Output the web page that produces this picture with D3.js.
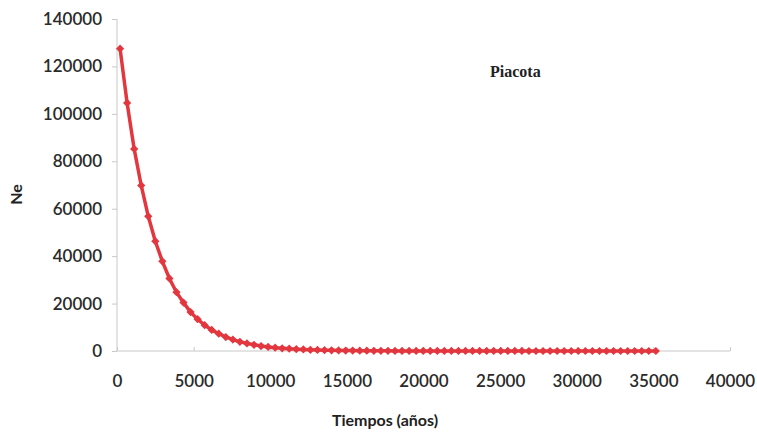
<!DOCTYPE html>
<html lang="es">
<head>
<meta charset="utf-8">
<title>Piacota</title>
<script src="https://cdn.jsdelivr.net/npm/d3@7"></script>
<style>
  body { margin: 0; background: #fff; }
  .tick text { font-family: Lato, "Open Sans", sans-serif; font-size: 17px; font-weight: 600; fill: #2a2a2a; }
  .axis path, .axis line { stroke: #c8c8c8; }
  .line { fill: none; stroke: #e3373f; stroke-width: 3.5px; }
  .dot { fill: #e3373f; }
</style>
</head>
<body>
<div id="chart"></div>
<script>
// años (x) y Ne (y)
var years = [200, 660, 1120, 1580, 2040, 2500, 2960, 3420, 3880, 4340, 4800, 5260, 5720, 6180,
  6640, 7100, 7560, 8020, 8480, 8940, 9400, 9860, 10320, 10780, 11240, 11700, 12160, 12620,
  13080, 13540, 14000, 14460, 14920, 15380, 15840, 16300, 16760, 17220, 17680, 18140, 18600,
  19060, 19520, 19980, 20440, 20900, 21360, 21820, 22280, 22740, 23200, 23660, 24120, 24580,
  25040, 25500, 25960, 26420, 26880, 27340, 27800, 28260, 28720, 29180, 29640, 30100, 30560,
  31020, 31480, 31940, 32400, 32860, 33320, 33780, 34240, 34700, 35160];
var ne = [127500, 104600, 85200, 69800, 56800, 46300, 37800, 30600, 24800, 20400, 16400, 13400,
  10900, 8900, 7300, 5900, 4800, 3900, 3200, 2600, 2100, 1700, 1400, 1150, 950, 780, 640, 520,
  430, 350, 290, 240, 200, 160, 130, 110, 90, 75, 60, 50, 40, 35, 30, 25, 20, 16, 13, 11, 9, 7,
  6, 5, 4, 3, 3, 2, 2, 2, 1, 1, 1, 1, 1, 1, 1, 1, 1, 1, 1, 1, 1, 1, 1, 1, 1, 1, 1];
var xTicks = [0, 5000, 10000, 15000, 20000, 25000, 30000, 35000, 40000];
var yTicks = [0, 20000, 40000, 60000, 80000, 100000, 120000, 140000];

var width = 757, height = 434;
var margin = {top: 19, right: 27, bottom: 83, left: 117};

var svg = d3.select("#chart").append("svg")
    .attr("width", width)
    .attr("height", height);

var x = d3.scaleLinear().domain([0, 40000]).range([margin.left, width - margin.right]);
var y = d3.scaleLinear().domain([0, 140000]).range([height - margin.bottom, margin.top]);

var data = years.map(function(d, i) { return {t: d, v: ne[i]}; });

var xAxis = svg.append("g")
    .attr("class", "axis")
    .attr("transform", "translate(0," + y(0) + ")")
    .call(d3.axisBottom(x).tickValues(xTicks).tickFormat(d3.format("d")).tickSize(-4).tickPadding(34));
xAxis.selectAll(".tick text").attr("dy", "0.1em");
xAxis.select(".domain").remove();
xAxis.append("line")
    .attr("x1", x(0)).attr("x2", x(40000))
    .attr("stroke", "#c8c8c8");

var yAxis = svg.append("g")
    .attr("class", "axis")
    .attr("transform", "translate(" + x(0) + ",0)")
    .call(d3.axisLeft(y).tickValues(yTicks).tickFormat(d3.format("d")).tickSize(5).tickPadding(10));
yAxis.select(".domain").attr("d", "M0," + y(0) + "V" + y(140000));

var line = d3.line()
    .x(function(d) { return x(d.t); })
    .y(function(d) { return y(d.v); });

svg.append("path")
    .datum(data)
    .attr("class", "line")
    .attr("d", line);

svg.selectAll(".dot")
    .data(data)
  .enter().append("path")
    .attr("class", "dot")
    .attr("d", d3.symbol(d3.symbolSquare).size(34))
    .attr("transform", function(d) { return "translate(" + x(d.t) + "," + y(d.v) + ") rotate(45)"; });

svg.append("text")
    .attr("transform", "translate(22," + y(66000) + ") rotate(-90)")
    .attr("text-anchor", "middle")
    .style("font-family", "Lato, 'Open Sans', sans-serif")
    .style("font-weight", "bold")
    .style("font-size", "16px")
    .style("fill", "#222")
    .text("Ne");

svg.append("text")
    .attr("x", 385)
    .attr("y", 426)
    .attr("text-anchor", "middle")
    .style("font-family", "Lato, 'Open Sans', sans-serif")
    .style("font-weight", "bold")
    .style("font-size", "16px")
    .style("fill", "#222")
    .text("Tiempos (años)");

svg.append("text")
    .attr("x", 490)
    .attr("y", 77)
    .style("font-family", "'Liberation Serif', 'DejaVu Serif', serif")
    .style("font-weight", "bold")
    .style("font-size", "16px")
    .style("fill", "#222")
    .text("Piacota");
</script>
</body>
</html>
